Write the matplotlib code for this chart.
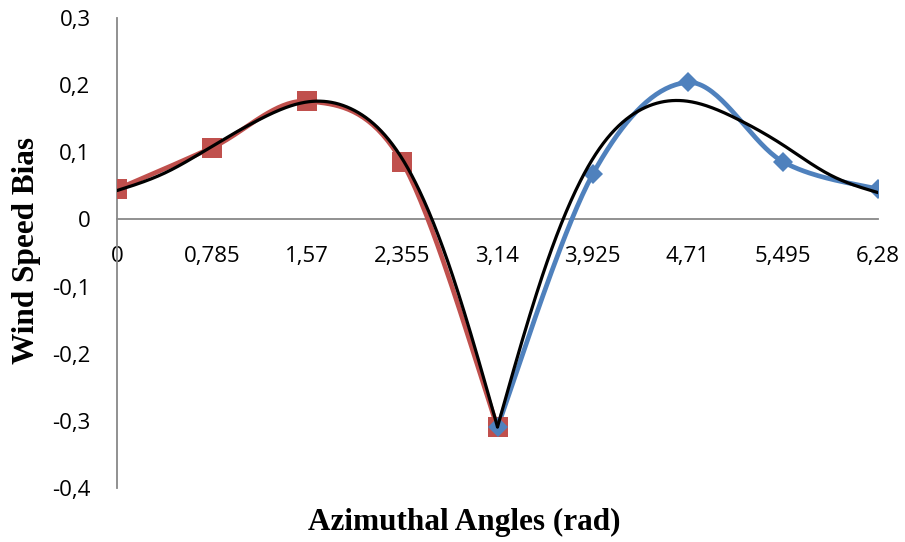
import numpy as np
import matplotlib
matplotlib.use("Agg")
import matplotlib.pyplot as plt

# ---- data ----
categories = ["0", "0,785", "1,57", "2,355", "3,14", "3,925", "4,71", "5,495", "6,28"]
red_values = [0.045, 0.107, 0.176, 0.085, -0.309]          # 0 .. 3,14
blue_values = [-0.309, 0.067, 0.204, 0.086, 0.045]         # 3,14 .. 6,28
# black fitted curve read every half category step
black_left = [0.043, 0.069, 0.109, 0.149, 0.175, 0.162, 0.090, -0.072, -0.309]
black_right = [-0.309, -0.072, 0.090, 0.163, 0.176, 0.151, 0.111, 0.066, 0.040]
ytick_values = [-0.4, -0.3, -0.2, -0.1, 0.0, 0.1, 0.2, 0.3]
ytick_labels = ["-0,4", "-0,3", "-0,2", "-0,1", "0", "0,1", "0,2", "0,3"]

RED = "#C0504D"
BLUE = "#4F81BD"
GRAY = "#888888"


def smooth(xs, ys, n=40):
    """Excel-like smoothing: cubic Bezier with Catmull-Rom control points."""
    P = np.column_stack([xs, ys]).astype(float)
    out = []
    m = len(P)
    for i in range(m - 1):
        p0 = P[i - 1] if i > 0 else P[i]
        p1 = P[i]
        p2 = P[i + 1]
        p3 = P[i + 2] if i + 2 < m else P[i + 1]
        c1 = p1 + (p2 - p0) / 6.0
        c2 = p2 - (p3 - p1) / 6.0
        t = np.linspace(0, 1, n)[:, None]
        seg = ((1 - t) ** 3) * p1 + 3 * ((1 - t) ** 2) * t * c1 + 3 * (1 - t) * t ** 2 * c2 + t ** 3 * p2
        if i > 0:
            seg = seg[1:]
        out.append(seg)
    out = np.vstack(out)
    return out[:, 0], out[:, 1]


def natural_spline(xs, ys, n=400):
    x = np.asarray(xs, float)
    y = np.asarray(ys, float)
    m = len(x)
    h = np.diff(x)
    A = np.zeros((m, m))
    b = np.zeros(m)
    A[0, 0] = A[-1, -1] = 1.0
    for i in range(1, m - 1):
        A[i, i - 1] = h[i - 1]
        A[i, i] = 2 * (h[i - 1] + h[i])
        A[i, i + 1] = h[i]
        b[i] = 6 * ((y[i + 1] - y[i]) / h[i] - (y[i] - y[i - 1]) / h[i - 1])
    M = np.linalg.solve(A, b)
    xx = np.linspace(x[0], x[-1], n)
    idx = np.clip(np.searchsorted(x, xx) - 1, 0, m - 2)
    x0, x1 = x[idx], x[idx + 1]
    hh = x1 - x0
    t0 = x1 - xx
    t1 = xx - x0
    yy = (M[idx] * t0 ** 3 + M[idx + 1] * t1 ** 3) / (6 * hh) \
        + (y[idx] / hh - M[idx] * hh / 6) * t0 + (y[idx + 1] / hh - M[idx + 1] * hh / 6) * t1
    return xx, yy


fig = plt.figure(figsize=(9.05, 5.42), dpi=100)
ax = fig.add_axes([117 / 905, 1 - 488 / 542, 761 / 905, 470 / 542])

x_red = np.arange(0, 5)
x_blue = np.arange(4, 9)
x_bl = np.arange(0, 9) * 0.5
x_br = 4 + np.arange(0, 9) * 0.5

sx, sy = smooth(x_red, red_values)
ax.plot(sx, sy, color=RED, lw=3.4, solid_capstyle="round", zorder=3)
ax.plot(x_red, red_values, ls="none", marker="s", ms=14, mew=0, color=RED, zorder=4)

sx, sy = smooth(x_blue, blue_values)
ax.plot(sx, sy, color=BLUE, lw=3.4, solid_capstyle="round", zorder=3)
ax.plot(x_blue, blue_values, ls="none", marker="D", ms=10, mew=0, color=BLUE, zorder=5)

for xs, ys in ((x_bl, black_left), (x_br, black_right)):
    sx, sy = natural_spline(xs, ys)
    ax.plot(sx, sy, color="black", lw=2.3, solid_capstyle="round", zorder=6)

ax.set_xlim(0, 8)
ax.set_ylim(-0.4, 0.3)

for s in ("top", "right"):
    ax.spines[s].set_visible(False)
ax.spines["left"].set_position(("data", 0))
ax.spines["bottom"].set_position(("data", 0))
for s in ("left", "bottom"):
    ax.spines[s].set_color(GRAY)
    ax.spines[s].set_linewidth(1.3)

tick_font = dict(family=["Open Sans", "DejaVu Sans"], size=16)
ax.set_xticks(np.arange(len(categories)))
ax.set_xticklabels(categories, **tick_font)
ax.set_yticks(ytick_values)
ax.set_yticklabels(ytick_labels, **tick_font)
ax.tick_params(axis="x", length=0, pad=19)
ax.tick_params(axis="y", length=0, pad=19)

title_font = dict(family=["Liberation Serif", "DejaVu Serif"], size=22.5, weight="bold")
ax.set_xlabel("Azimuthal Angles (rad)", va="center", **title_font)
ax.xaxis.set_label_coords((464 - 117) / 761, -(522 - 488) / 470)
ax.set_ylabel("Wind Speed Bias", va="center", **title_font)
ax.yaxis.set_label_coords((26 - 117) / 761, (488 - 250) / 470)

fig.savefig("out.png", dpi=100)
